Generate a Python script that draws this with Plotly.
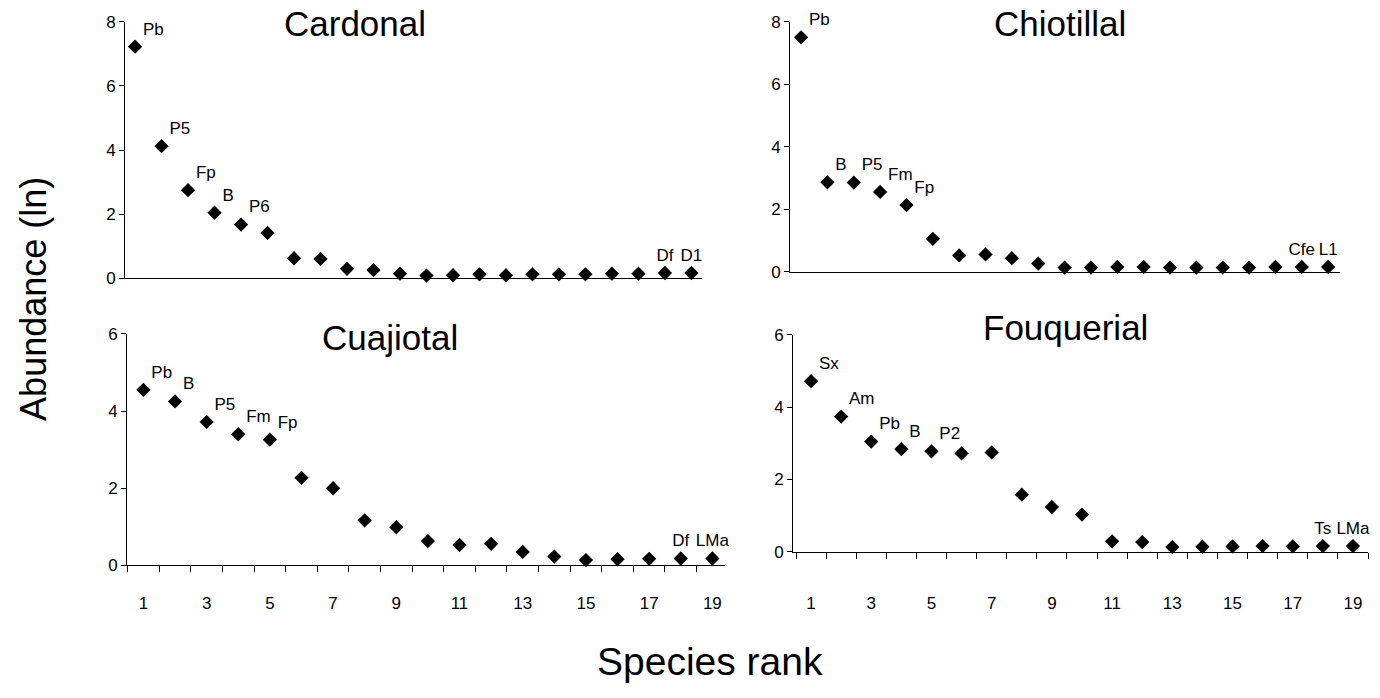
import plotly.graph_objects as go

W, H = 1380, 698

# ---- data ----
cardonal_rank = list(range(1, 23))
cardonal_ab = [7.22, 4.12, 2.75, 2.05, 1.68, 1.42, 0.63, 0.61, 0.30, 0.26, 0.15,
               0.09, 0.10, 0.13, 0.10, 0.13, 0.13, 0.13, 0.15, 0.15, 0.17, 0.17]
cardonal_lab = ["Pb", "P5", "Fp", "B", "P6"] + [""] * 15 + ["Df", "D1"]

chiotillal_rank = list(range(1, 22))
chiotillal_ab = [7.50, 2.86, 2.85, 2.55, 2.13, 1.05, 0.52, 0.55, 0.43, 0.26, 0.13,
                 0.13, 0.15, 0.15, 0.13, 0.13, 0.13, 0.13, 0.15, 0.15, 0.15]
chiotillal_lab = ["Pb", "B", "P5", "Fm", "Fp"] + [""] * 14 + ["Cfe", "L1"]

cuajiotal_rank = list(range(1, 20))
cuajiotal_ab = [4.55, 4.25, 3.72, 3.40, 3.26, 2.27, 2.00, 1.17, 0.99, 0.63, 0.53,
                0.56, 0.35, 0.23, 0.14, 0.16, 0.17, 0.18, 0.18]
cuajiotal_lab = ["Pb", "B", "P5", "Fm", "Fp"] + [""] * 12 + ["Df", "LMa"]

fouquerial_rank = list(range(1, 20))
fouquerial_ab = [4.72, 3.74, 3.05, 2.84, 2.78, 2.72, 2.75, 1.58, 1.24, 1.03, 0.29,
                 0.27, 0.13, 0.14, 0.15, 0.16, 0.15, 0.16, 0.16]
fouquerial_lab = ["Sx", "Am", "Pb", "B", "P2"] + [""] * 12 + ["Ts", "LMa"]

bottom_tickvals = [1, 3, 5, 7, 9, 11, 13, 15, 17, 19]
bottom_tickmarks = [0.5 + i for i in range(20)]

FONT = "Liberation Sans, Arial, sans-serif"

def px_x(a, b):
    return [a / W, b / W]

def px_y(top, bottom):
    return [1 - bottom / H, 1 - top / H]

fig = go.Figure()

panels = [
    (cardonal_rank, cardonal_ab, cardonal_lab, "x", "y"),
    (chiotillal_rank, chiotillal_ab, chiotillal_lab, "x2", "y2"),
    (cuajiotal_rank, cuajiotal_ab, cuajiotal_lab, "x3", "y3"),
    (fouquerial_rank, fouquerial_ab, fouquerial_lab, "x4", "y4"),
]
for xs, ys, labs, xa, ya in panels:
    pos = ["top right"] * 5 + ["top center"] * (len(xs) - 5)
    fig.add_trace(go.Scatter(
        x=xs, y=ys, mode="markers+text", text=labs, textposition=pos,
        textfont=dict(family=FONT, size=17, color="black"),
        marker=dict(symbol="diamond", size=11, color="black"),
        xaxis=xa, yaxis=ya, showlegend=False, cliponaxis=False))

# invisible traces so the overlaid tick-mark axes are drawn
for xa, ya in (("x5", "y3"), ("x6", "y4")):
    fig.add_trace(go.Scatter(x=[1], y=[0], mode="markers",
                             marker=dict(opacity=0), hoverinfo="skip",
                             xaxis=xa, yaxis=ya, showlegend=False))

ycommon = dict(showline=True, linecolor="black", linewidth=1, ticks="outside",
               ticklen=5, tickcolor="black", showgrid=False, zeroline=False,
               dtick=2, tickfont=dict(family=FONT, size=17, color="black"))
xtop = dict(showline=True, linecolor="black", linewidth=1, ticks="",
            showticklabels=False, showgrid=False, zeroline=False)
xbot = dict(showline=True, linecolor="black", linewidth=1, ticks="",
            tickmode="array", tickvals=bottom_tickvals,
            showgrid=False, zeroline=False,
            tickfont=dict(family=FONT, size=17, color="black"))
xmarks = dict(showline=False, ticks="outside", ticklen=6, tickwidth=1,
              tickcolor="black", tickmode="array", tickvals=bottom_tickmarks,
              showticklabels=False, showgrid=False, zeroline=False)

x3_dom, x3_rng = px_x(127, 725), [0.48, 19.4]
x4_dom, x4_rng = px_x(793, 1368), [0.4, 19.5]

fig.update_layout(
    width=W, height=H, margin=dict(l=0, r=0, t=0, b=0),
    paper_bgcolor="white", plot_bgcolor="white",
    xaxis=dict(xtop, domain=px_x(125, 702), range=[0.62, 22.4], anchor="y"),
    yaxis=dict(ycommon, domain=px_y(13, 277), range=[0, 8], anchor="x"),
    xaxis2=dict(xtop, domain=px_x(790, 1340), range=[0.58, 21.45], anchor="y2"),
    yaxis2=dict(ycommon, domain=px_y(13, 270), range=[0, 8], anchor="x2"),
    xaxis3=dict(xbot, domain=x3_dom, range=x3_rng, anchor="y3",
                ticklabelstandoff=22),
    yaxis3=dict(ycommon, domain=px_y(334, 572), range=[0, 6], anchor="x3"),
    xaxis4=dict(xbot, domain=x4_dom, range=x4_rng, anchor="y4",
                ticklabelstandoff=36),
    yaxis4=dict(ycommon, domain=px_y(335, 558), range=[0, 6], anchor="x4"),
    xaxis5=dict(xmarks, domain=x3_dom, range=x3_rng, anchor="y3", overlaying="x3"),
    xaxis6=dict(xmarks, domain=x4_dom, range=x4_rng, anchor="y4", overlaying="x4"),
)

titles = [("Cardonal", 355, 15), ("Chiotillal", 1060, 15),
          ("Cuajiotal", 390, 338), ("Fouquerial", 1065, 327)]
for t, cx, cy in titles:
    fig.add_annotation(text=t, x=cx / W, y=1 - cy / H, xref="paper", yref="paper",
                       showarrow=False, xanchor="center", yanchor="middle",
                       font=dict(family=FONT, size=35, color="black"))

fig.add_annotation(text="Abundance (ln)", x=34 / W, y=1 - 298 / H, xref="paper",
                   yref="paper", showarrow=False, textangle=-90,
                   xanchor="center", yanchor="middle",
                   font=dict(family=FONT, size=36, color="black"))
fig.add_annotation(text="Species rank", x=710 / W, y=1 - 671 / H, xref="paper",
                   yref="paper", showarrow=False, xanchor="center", yanchor="middle",
                   font=dict(family=FONT, size=39, color="black"))

fig.write_html("out.html")
